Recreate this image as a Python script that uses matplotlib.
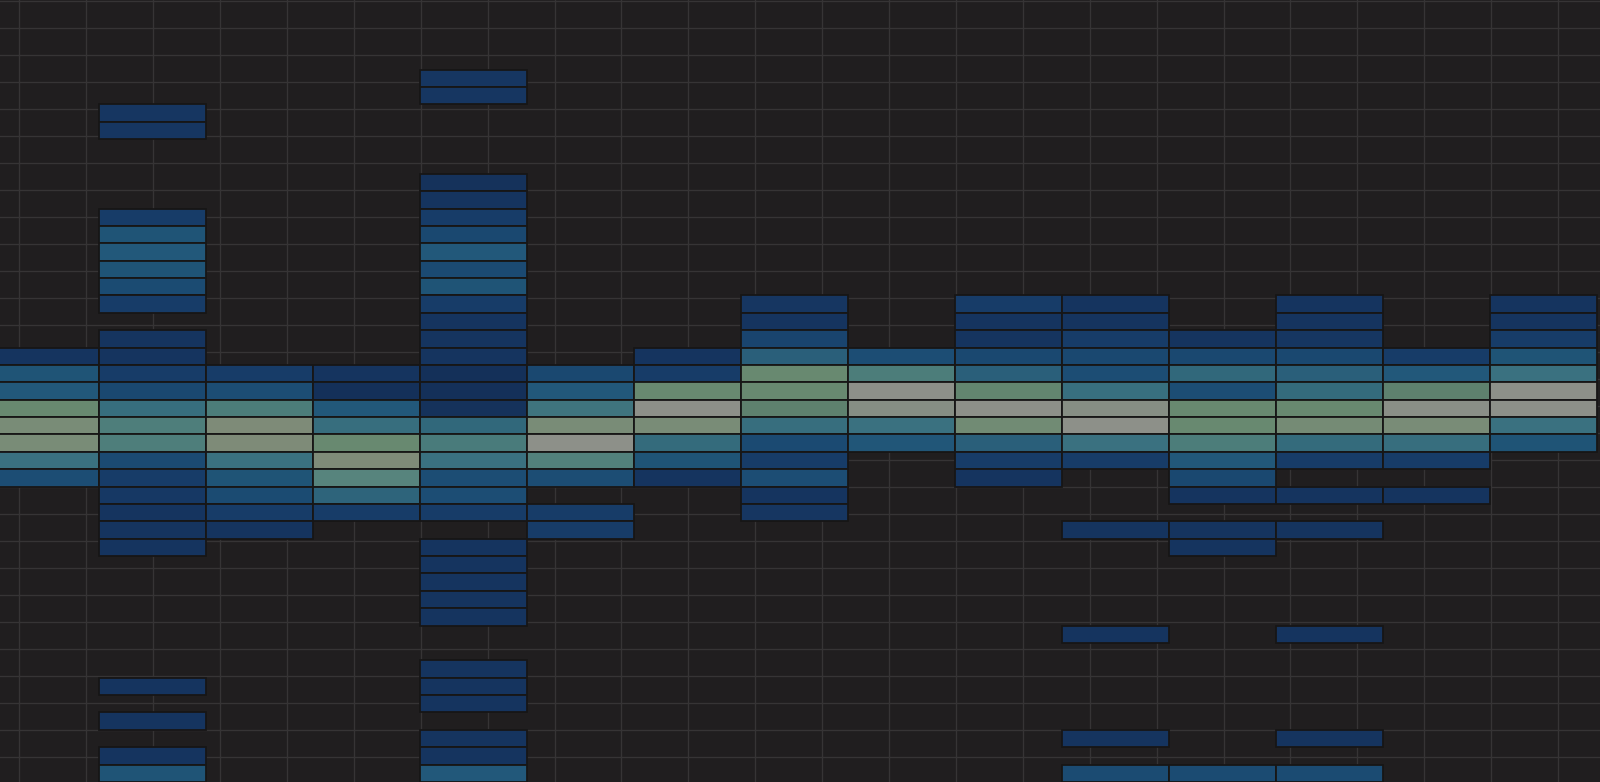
import numpy as np
import matplotlib
matplotlib.use("Agg")
import matplotlib.pyplot as plt
from matplotlib.colors import LinearSegmentedColormap

_ = None  # empty cell

N_ROWS = 45

# each column: first row index (0 = top) and the cell values going down
col01_start = 20
col01 = [0.08, 0.36, 0.40, 0.76, 0.84, 0.84, 0.56, 0.30]

col02_start = 6
col02 = [0.10, 0.10, _, _, _, _, 0.15, 0.36, 0.40, 0.36, 0.28, 0.15, _,
         0.08, 0.08, 0.15, 0.25, 0.54, 0.64, 0.64, 0.27, 0.15, 0.12, 0.08, 0.08, 0.08,
         _, _, _, _, _, _, _, 0.08, _, 0.08, _, 0.08, 0.36]

col03_start = 21
col03 = [0.15, 0.30, 0.63, 0.87, 0.87, 0.56, 0.36, 0.28, 0.15, 0.08]

col04_start = 21
col04 = [0.08, 0.03, 0.40, 0.54, 0.76, 0.88, 0.68, 0.48, 0.15]

col05_start = 4
col05 = [0.10, 0.10, _, _, _, _, 0.05, 0.08, 0.15, 0.25, 0.40, 0.27, 0.36, 0.15,
         0.08, 0.08, 0.08, 0.03, 0.03, 0.05, 0.50, 0.62, 0.56, 0.30, 0.30, 0.15, _,
         0.08, 0.08, 0.08, 0.08, 0.08, _, _, 0.08, 0.08, 0.08, _, 0.08, 0.08, 0.40]

col06_start = 21
col06 = [0.25, 0.40, 0.58, 0.84, 1.00, 0.66, 0.30, _, 0.15, 0.15]

col07_start = 20
col07 = [0.08, 0.15, 0.76, 1.00, 0.84, 0.52, 0.36, 0.08]

col08_start = 17
col08 = [0.10, 0.08, 0.22, 0.45, 0.76, 0.76, 0.72, 0.54, 0.27, 0.15, 0.30, 0.08, 0.10]

col09_start = 20
col09 = [0.30, 0.63, 1.00, 0.93, 0.56, 0.38]

col10_start = 17
col10 = [0.15, 0.08, 0.08, 0.25, 0.45, 0.74, 1.00, 0.80, 0.45, 0.15, 0.08]

col11_start = 17
col11 = [0.08, 0.08, 0.15, 0.25, 0.30, 0.55, 0.93, 1.00, 0.56, 0.15, _, _, _, 0.08,
         _, _, _, _, _, 0.08, _, _, _, _, _, 0.08, _, 0.28]

col12_start = 19
col12 = [0.08, 0.25, 0.50, 0.30, 0.76, 0.76, 0.63, 0.40, 0.25, 0.08, _, 0.08, 0.08,
         _, _, _, _, _, _, _, _, _, _, _, _, 0.28]

col13_start = 17
col13 = [0.08, 0.08, 0.10, 0.25, 0.45, 0.52, 0.76, 0.82, 0.52, 0.15, _, 0.08, _, 0.08,
         _, _, _, _, _, 0.08, _, _, _, _, _, 0.08, _, 0.28]

col14_start = 20
col14 = [0.15, 0.40, 0.72, 0.97, 0.84, 0.54, 0.15, _, 0.08]

col15_start = 17
col15 = [0.08, 0.08, 0.15, 0.36, 0.56, 1.00, 1.00, 0.56, 0.36]

columns = [
    (col01_start, col01), (col02_start, col02), (col03_start, col03),
    (col04_start, col04), (col05_start, col05), (col06_start, col06),
    (col07_start, col07), (col08_start, col08), (col09_start, col09),
    (col10_start, col10), (col11_start, col11), (col12_start, col12),
    (col13_start, col13), (col14_start, col14), (col15_start, col15),
]

# colour scale: navy -> blue -> teal -> sage -> grey
cmap = LinearSegmentedColormap.from_list("navy_sage", [
    (0.00, "#142e56"), (0.08, "#15345f"), (0.15, "#173c68"), (0.25, "#1a4870"),
    (0.30, "#1c4d74"), (0.36, "#1f5476"), (0.40, "#22587a"), (0.45, "#2a5f7a"),
    (0.52, "#346b7c"), (0.56, "#3a7180"), (0.63, "#4c7d7a"), (0.68, "#57847e"),
    (0.72, "#5e816e"), (0.76, "#688970"), (0.84, "#798c77"), (0.88, "#7f8b78"),
    (0.93, "#868e84"), (1.00, "#8d9089"),
])

BG = "#201e1f"
GRID = "#363435"
EDGE = "#171616"

W, H = 1600, 782
fig = plt.figure(figsize=(W / 100, H / 100), dpi=100, facecolor=BG)

# background grid (independent of the cells)
ax_bg = fig.add_axes([0, 0, 1, 1])
ax_bg.set_facecolor(BG)
ax_bg.set_xlim(0, W)
ax_bg.set_ylim(H, 0)
ax_bg.set_xticks(np.arange(19.3, W, 66.9))
ax_bg.set_yticks(np.arange(0.5, H, 27.0))
ax_bg.grid(True, color=GRID, linewidth=0.95)
ax_bg.tick_params(length=0, labelbottom=False, labelleft=False)
for s in ax_bg.spines.values():
    s.set_visible(False)

# cells
ax = fig.add_axes([0, 0, 1, 1])
ax.patch.set_alpha(0)
col_px = 107.04
x0 = 8.5 / col_px
ax.set_xlim(x0, x0 + W / col_px)
ax.set_ylim(N_ROWS, 0)
ax.axis("off")

for i, (start, vals) in enumerate(columns):
    rows = [start + j for j, v in enumerate(vals) if v is not None]
    v = np.array([v for v in vals if v is not None])
    ax.bar(np.full(len(rows), i), 1, bottom=rows, width=1, align="edge",
           color=cmap(v), edgecolor=EDGE, linewidth=1.3)

fig.savefig("out.png", dpi=100, facecolor=BG)
